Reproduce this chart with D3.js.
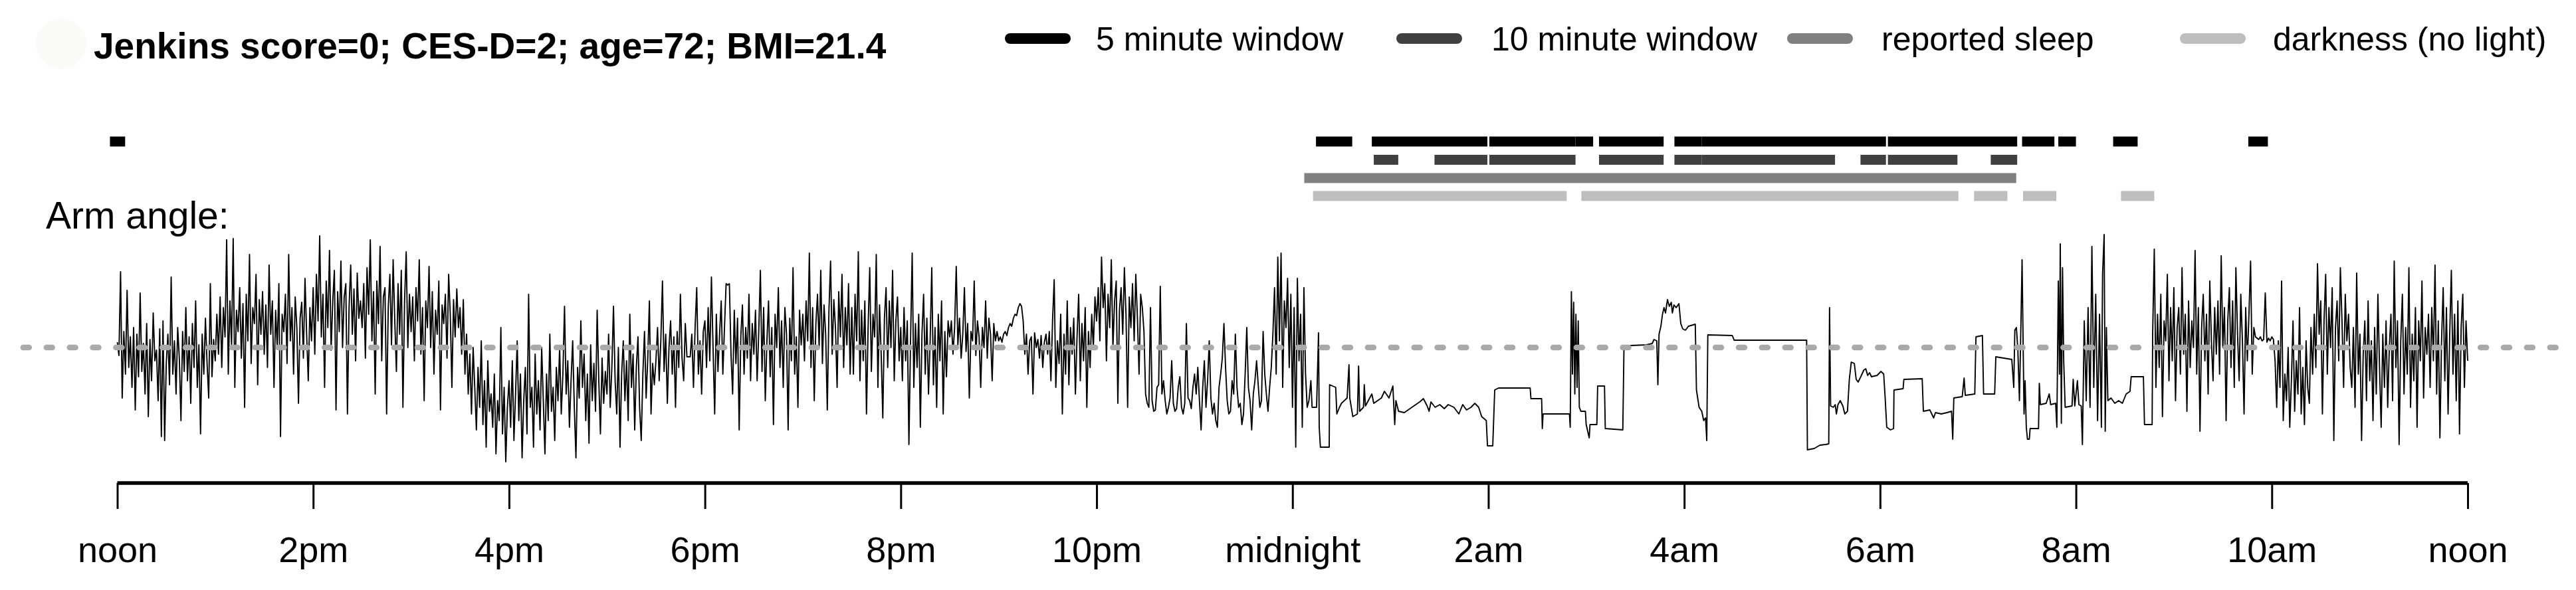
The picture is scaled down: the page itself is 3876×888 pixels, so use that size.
<!DOCTYPE html>
<html>
<head>
<meta charset="utf-8">
<script src="https://cdn.jsdelivr.net/npm/d3@7"></script>
<style>
  html, body { margin: 0; padding: 0; background: #ffffff; }
  svg { display: block; }
  text { font-family: "Liberation Sans", Arial, Helvetica, sans-serif; fill: #000; }
</style>
</head>
<body>
<svg id="chart" width="3876" height="888"></svg>
<script>
// ---------------- data ----------------
const titleText = "Jenkins score=0; CES-D=2; age=72; BMI=21.4";
const yLabel = "Arm angle:";
const tickHours = [0, 2, 4, 6, 8, 10, 12, 14, 16, 18, 20, 22, 24];
const tickLabels = ["noon", "2pm", "4pm", "6pm", "8pm", "10pm", "midnight", "2am", "4am", "6am", "8am", "10am", "noon"];

const legendLabels = ["5 minute window", "10 minute window", "reported sleep", "darkness (no light)"];
const legendColors = ["#000000", "#404040", "#808080", "#bebebe"];

// event windows, [start hour, end hour] (hours after noon)
const fiveMinuteWindow = [[-0.075, 0.08], [12.24, 12.61], [12.81, 13.99], [14.01, 14.89], [14.89, 15.07], [15.13, 15.79], [15.90, 16.18], [16.18, 18.06], [18.08, 19.40], [19.45, 19.78], [19.82, 20.00], [20.38, 20.63], [21.76, 21.96]];
const tenMinuteWindow = [[12.83, 13.08], [13.45, 13.99], [14.01, 14.89], [15.13, 15.79], [15.90, 16.18], [16.18, 17.54], [17.80, 18.06], [18.08, 18.79], [19.13, 19.40]];
const reportedSleep = [[12.12, 19.39]];
const darkness = [[12.21, 14.80], [14.95, 18.80], [18.96, 19.30], [19.46, 19.80], [20.46, 20.80]];

// arm angle (degrees), one value per minute from noon (minute 0) to minute 729
const armAngleDay = [
  4, -6, 57, -38, 12, -20, 43, -15, 8, -30, 15, -47, 10, -22, 41, -18, 3, -35, 18, -52, 6, -25, 26, -10, -2, -40, 14, -67, 20, -70,
  -12, 10, -28, 53, -20, 5, -35, 15, -8, -55, 12, -18, 30, -25, 8, -42, 18, -15, 35, -30, 2, -65, 10, -20, 22, -12, -38, 48, -22, 6,
  -10, 25, -5, 38, -15, 30, 8, 81, -20, 35, 2, 82, -30, 28, 12, 45, -8, 33, -45, 40, 5, 70, -12, 30, 18, 55, -28, 36, 10, 42,
  -5, 32, -15, 62, 10, 35, -30, 28, 0, 48, -67, 25, 12, 40, -12, 70, 5, 30, -20, 38, 15, -42, 22, 34, -8, 52, 10, -25, 30, 5,
  45, -5, 55, 20, 84, 8, 40, -30, 50, 15, 73, -2, 35, 58, -47, 42, 12, 65, 0, 38, 48, -50, 30, 62, 10, 44, -10, 56, 22, 35,
  15, 48, -8, 60, 25, 81, 5, 42, -35, 50, 18, 76, -10, 38, 45, -50, 30, 55, 2, 66, 20, -18, 48, 10, 58, -45, 35, 72, 0, 40,
  12, 38, -10, 45, 20, 66, -5, 30, -40, 35, 15, 61, 0, 42, -20, 28, 10, 50, -47, 32, 18, 40, -8, 55, 25, -30, 36, 8, 44, 15,
  30, -5, 36, -20, 10, -35, -5, -50, 0, -30, -62, -15, -45, 5, -58, -25, -75, -10, -48, -35, -60, -20, -80, -40, -55, 15, -65, -30, -86, -45,
  -25, -60, -10, -70, -35, 5, -55, -20, -83, -40, -15, -65, 40, -45, -30, -75, -5, -50, -25, -62, 0, -40, -80, -20, -55, 10, -48, -30, -70, -15,
  -40, 0, -50, -20, 31, -35, -10, -60, -25, 5, -45, -83, -15, -38, 20, -30, -5, -55, -20, -72, 2, -40, -12, -48, 28, -25, -65, -8, -42, -18,
  -35, 10, -45, -15, 31, -25, -50, 0, -75, -20, 5, -40, -10, -55, 25, -30, -5, -62, -15, 8, -45, -70, -20, 12, -38, -8, 35, -50, -12, -28,
  -10, 15, -25, 5, 50, -18, 10, -42, 0, 20, -20, 8, -45, 12, -15, 40, -8, -25, 18, -7, -7, -7, 10, -30, 15, 45, -20, 5, -35, 12,
  20, -15, 30, -10, 53, 0, -50, 25, -18, 10, 35, -20, 15, 48, 47, 48, -5, -35, 28, -12, 22, -62, 8, 32, -20, 15, -8, 40, -25, 18,
  -5, 28, -25, 12, 58, -18, 30, -40, 5, 35, -22, 15, -58, 25, 0, 45, -15, 20, -30, 30, 10, -62, 22, -10, 60, -20, 8, -45, 28, 2,
  25, -10, 35, 5, 71, -15, 30, -40, 18, 40, 0, 58, -12, 32, 10, -47, 28, 65, -5, 36, 15, -30, 42, 8, 55, -15, 30, 2, 48, -20,
  30, -20, 40, 5, 72, -25, 28, -10, 35, -50, 15, 60, -18, 25, 8, 70, -30, 32, -5, -53, 22, 45, -15, 35, 0, 58, -25, 20, 38, -10,
  15, -25, 30, -10, 20, -73, 5, 71, -30, 18, -15, 25, -60, 10, 40, -20, 22, -35, 5, 60, -28, 15, -45, 25, -10, 35, -50, 12, -22, 20,
  8, 20, -5, 15, 61, 2, 22, -8, 10, 45, -3, 18, -38, 12, 5, 50, -6, 20, 8, -30, 15, 0, 35, -8, 22, 10, -25, 18, 5, 12,
  5, 8, 4, 10, 12, 9, 15, 18, 16, 22, 25, 24, 30, 33, 31, 20, -5, 10, -20, 5, 8, -35, 11, 0, 6, -8, 9, -15, 4, 10,
  -5, 12, -25, 20, 51, -30, 5, -12, 25, -50, 10, -20, 35, -28, 15, -5, 22, -35, 8, 40, -25, 18, -10, 30, -45, 12, -15, 25, 0, 38,
  20, 45, 5, 68, 30, 48, -10, 40, 15, 66, 0, 35, 50, -42, 28, 45, 10, 60, 25, -45, 38, 15, 48, 5, 55, 22, -20, 40, 30, 12,
  -35, -42, -45, 30, -40, -48, -47, -30, -28, 46, -35, -25, -40, -50, -45, -38, -10, -42, -48, -46, -30, -22, -45, -50, -42, 18, -38, -40, -46, -30,
  -20, -35, -15, -40, -62, -30, -10, -45, -25, 5, -38, -50, -42, -55, -60, -30, -20, -8, 18, -15, -40, -50, -48, -25, -35, 10, -30, -45, -42, -58,
  -50, -20, 15, -30, -40, -62, -35, -25, -10, -28, -45, -40, 12, -20, -35, -48, -30, -15,
  10, 45, -20, 68, 5, 71, -30, 35, 15, 52, -15, 40, -45, 30, -75, 52, -10, 25, -60, 45, -20, -45
];

// night: [hour, angle] pairs (steps while lying still)
const armAngleNight = [
  [12.168, -40], [12.188, -25], [12.2, -45], [12.246, -45], [12.266, 11], [12.273, -60], [12.285, -75], [12.375, -75],
  [12.379, -28], [12.441, -30], [12.453, -50], [12.48, -45], [12.5, -42], [12.558, -38], [12.577, -13], [12.585, -38],
  [12.616, -52], [12.663, -50], [12.675, -14], [12.686, -48], [12.725, -45], [12.733, -28], [12.745, -44], [12.81, -35],
  [12.83, -42], [12.869, -40], [12.908, -38], [12.939, -33], [12.986, -38], [13.025, -29], [13.044, -58], [13.056, -40],
  [13.083, -48], [13.142, -49], [13.2, -46], [13.239, -44], [13.298, -41], [13.337, -38.5], [13.375, -44], [13.395, -48],
  [13.414, -41], [13.457, -45], [13.504, -43], [13.55, -46], [13.59, -43], [13.648, -45], [13.699, -50], [13.738, -43],
  [13.777, -47], [13.823, -45], [13.862, -42], [13.901, -45], [13.932, -52], [13.979, -55], [13.991, -74], [14.045, -74],
  [14.065, -32], [14.104, -30.5], [14.427, -30.5], [14.435, -38.5], [14.544, -38.5], [14.551, -61], [14.559, -50], [14.828, -50],
  [14.836, -60], [14.848, 42], [14.859, -20], [14.871, 34], [14.883, -35], [14.894, 25], [14.906, -30], [14.918, 20],
  [14.929, -45], [14.945, -48], [14.991, -48], [14.999, -58], [15.03, -68], [15.038, -58], [15.108, -58], [15.116, -29],
  [15.186, -29], [15.194, -61], [15.373, -62], [15.385, 0.5], [15.459, 1.5], [15.615, 2], [15.673, 3], [15.692, 6],
  [15.72, 5], [15.731, -28], [15.743, 10], [15.762, 16], [15.778, 25], [15.794, 30], [15.809, 26], [15.829, 36],
  [15.848, 31], [15.868, 34], [15.879, 26], [15.895, 32], [15.918, 30], [15.946, 33], [15.965, 18], [15.985, 14],
  [16.012, 13], [16.043, 16], [16.113, 17.5], [16.125, -32], [16.152, -45], [16.179, -48], [16.199, -55], [16.218, -53],
  [16.23, -70], [16.241, 9.5], [16.491, 9], [16.51, 5.5], [17.25, 5.5], [17.258, -77], [17.328, -76], [17.386, -73.5],
  [17.445, -73], [17.476, -72.5], [17.484, 30], [17.495, -44], [17.523, -45], [17.542, -43], [17.554, -50], [17.57, -43],
  [17.593, -40], [17.62, -44], [17.64, -50], [17.667, -48], [17.686, -24], [17.706, -11], [17.737, -12], [17.756, -24],
  [17.776, -26], [17.803, -22], [17.834, -17], [17.854, -16], [17.873, -21], [17.893, -19], [17.912, -22], [17.97, -21],
  [18.009, -18], [18.037, -20], [18.052, -38], [18.068, -60], [18.107, -62], [18.138, -61], [18.142, -32], [18.235, -31],
  [18.243, -24], [18.43, -23.5], [18.442, -48], [18.508, -47], [18.547, -53], [18.566, -49], [18.625, -50], [18.683, -49],
  [18.73, -48], [18.742, -69], [18.753, -38], [18.839, -37], [18.858, -23], [18.87, -36], [18.967, -35], [18.979, 8],
  [19.045, 9], [19.057, -35], [19.17, -35], [19.182, -7], [19.345, -9], [19.365, -30], [19.376, 13], [19.392, 15],
  [19.407, -2], [19.423, -40], [19.439, 20], [19.45, 66], [19.462, -5], [19.47, -50], [19.481, -25], [19.493, -60],
  [19.505, -69], [19.524, -69], [19.532, -61], [19.618, -61], [19.626, -27], [19.637, -43], [19.696, -42], [19.727, -35],
  [19.742, -43], [19.793, -42], [19.805, -60], [19.82, 50], [19.832, -20], [19.84, 78], [19.851, -57], [19.863, 60],
  [19.875, -10], [19.89, -45], [19.96, -44], [19.972, -24], [19.988, -44], [20.015, -25], [20.03, -43], [20.054, -44],
  [20.066, -73], [20.085, 20], [20.105, -40], [20.124, 30], [20.144, -45], [20.163, 76], [20.182, -30], [20.202, 40],
  [20.221, -55], [20.241, 25], [20.26, -60], [20.272, 55], [20.288, 85], [20.299, -63], [20.311, 15], [20.326, -40],
  [20.358, -38], [20.397, -42], [20.436, -40], [20.474, -42], [20.513, -35], [20.552, -33], [20.564, -22], [20.689, -22],
  [20.7, -58], [20.778, -58]
];

// morning: one value per minute from minute 1247 to minute 1440 (noon)
const morningStartMinute = 1247;
const armAngleMorning = [
  10, 74, -30, 25, -15, 40, -52, 20, 5, 55, -25, 30, -10, 45, -40, 15, 30, -20, 60, -5, 25, -48, 35, -15, 20, 0,
  73, -20, 30, -63, 15, 40, -10, 25, -35, 50, 5, -25, 30, -5,
  35, -20, 69, 0, 30, -55, 20, 45, -15, 35, -30, 60, 10, -25, 40, 5, -50, 30, -10, 25, 65, -20, 15, 8,
  7, 6, 8, 5, 6, 41, 4, 7, 5, 8, 6,
  -10, -45, 5, -30, 50, -55, -20, -40, 0, -60, -25, 20, -48, -10, -35, 30, -50, -15, -58, 5, -30, -42, 15, -20,
  25, -15, 63, 10, 35, -50, 20, 55, -20, 30, 0, 45, -70, 15, 35, -10, 60, 20, -30, 40, 5, 25, -15,
  -30, 15, -45, 56, -20, 10, -70, -5, 20, -40, 35, -25, 5, -55, 15, -35, 40, -15, -60, 10, -30, 20, -45, 0,
  25, -40, 65, -15, 20, -73, 5, 40, -35, 15, -20, 60, -45, 10, -25, 30, -60, 20, -10, 50, -38, 15, -5, 25,
  -30, 30, -10, 62, -35, 20, -68, 5, 45, -25, 30, -50, 10, 58, -20, 25, -40, 35, -65, 15, 40, -30, 20, -10
];

// ---------------- drawing ----------------
const svg = d3.select("#chart");
const font = '"Liberation Sans", Arial, Helvetica, sans-serif';

const x = d3.scaleLinear().domain([0, 24]).range([176.5, 3713]);
const y = d3.scaleLinear().domain([-90, 90]).range([703, 343]);

// faint emblem left of the title
svg.append("circle").attr("cx", 92).attr("cy", 66).attr("r", 38).attr("fill", "#fafaf8");

// title
svg.append("text").attr("x", 141).attr("y", 88)
  .style("font-size", "55px").style("font-weight", "bold").text(titleText);

// legend
const legendLineX = [1520, 2109, 2697, 3288];
const legendTextX = [1649, 2244, 2831, 3420];
legendLabels.forEach((lab, i) => {
  svg.append("line").attr("x1", legendLineX[i]).attr("x2", legendLineX[i] + 83)
    .attr("y1", 58).attr("y2", 58)
    .attr("stroke", legendColors[i]).attr("stroke-width", 16).attr("stroke-linecap", "round");
  svg.append("text").attr("x", legendTextX[i]).attr("y", 76)
    .style("font-size", "50px").text(lab);
});

// event rows
const rows = [
  { data: fiveMinuteWindow, color: legendColors[0], cy: 213 },
  { data: tenMinuteWindow, color: legendColors[1], cy: 240.5 },
  { data: reportedSleep, color: legendColors[2], cy: 268 },
  { data: darkness, color: legendColors[3], cy: 295 }
];
rows.forEach(r => {
  svg.append("g").selectAll("rect").data(r.data).join("rect")
    .attr("x", d => x(d[0])).attr("width", d => x(d[1]) - x(d[0]))
    .attr("y", r.cy - 7.5).attr("height", 15)
    .attr("fill", r.color);
});

// y label
svg.append("text").attr("x", 69).attr("y", 344).style("font-size", "57px").text(yLabel);

// arm angle trace
const trace = [];
armAngleDay.forEach((v, i) => trace.push([i / 60, v]));
armAngleNight.forEach(p => trace.push(p));
armAngleMorning.forEach((v, i) => trace.push([(morningStartMinute + i) / 60, v]));

svg.append("path").datum(trace)
  .attr("fill", "none").attr("stroke", "#000").attr("stroke-width", 1.9)
  .attr("stroke-linejoin", "round")
  .attr("d", d3.line().x(d => x(d[0])).y(d => y(d[1])));

// horizontal reference (dotted)
svg.append("line")
  .attr("x1", 35).attr("x2", 3854.5).attr("y1", y(0)).attr("y2", y(0))
  .attr("stroke", "#a9a9a9").attr("stroke-width", 8.72)
  .attr("stroke-dasharray", "8.72 26.16").attr("stroke-linecap", "round");

// time axis
const axis = d3.axisBottom(x)
  .tickValues(tickHours)
  .tickFormat((d, i) => tickLabels[i])
  .tickSize(39).tickSizeOuter(0).tickPadding(42);
const gAxis = svg.append("g").attr("transform", "translate(0,727)").call(axis);
gAxis.select(".domain").attr("stroke", "#000").attr("stroke-width", 5.5)
  .attr("d", `M${x(0)},0H${x(24)}`);
gAxis.selectAll(".tick line").attr("stroke", "#000").attr("stroke-width", 3);
gAxis.selectAll(".tick text").style("font-size", "54px").style("font-family", font).attr("fill", "#000");
</script>
</body>
</html>
